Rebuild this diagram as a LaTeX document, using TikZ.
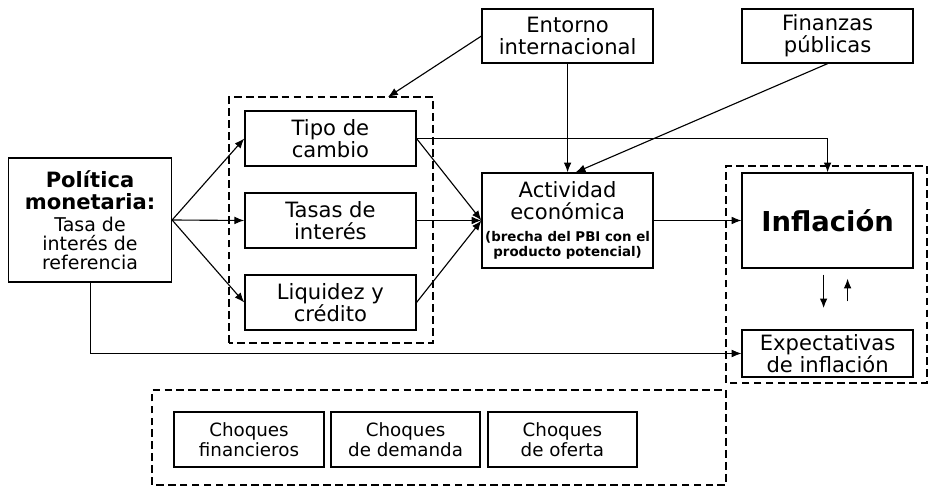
\documentclass[tikz,border=0pt]{standalone}
\usepackage{fontspec}
\setmainfont{DejaVu Sans}
\usetikzlibrary{arrows.meta}
\newcommand{\menor}{\fontsize{13.5}{14}\selectfont}
\newcommand{\nota}{\fontsize{9.5}{11.5}\selectfont\bfseries}
\tikzset{
  caja/.style={draw, line width=0.9pt, minimum width=4.275cm, inner sep=0pt,
    align=center, font=\fontsize{15}{15.5}\selectfont},
  grupo/.style={line width=1.4pt, dash pattern=on 5.5pt off 3pt},
  flecha/.style={-{Latex[length=7pt,width=5.5pt]}, line width=0.8pt},
}
\begin{document}
\begin{tikzpicture}
    \useasboundingbox (0,0) rectangle (23.2,12.15);

    \node[caja, minimum width=4.075cm, minimum height=3.1cm] (politica) at (2.25,6.65)
        {\textbf{Política}\\\textbf{monetaria:}\\\menor Tasa de\\[-2pt]\menor interés de\\[-2pt]\menor referencia};

    \node[caja, minimum height=1.375cm] (tipo)     at (8.26,8.6875) {Tipo de\\cambio};
    \node[caja, minimum height=1.375cm] (tasas)    at (8.26,6.6375) {Tasas de\\interés};
    \node[caja, minimum height=1.375cm] (liquidez) at (8.26,4.5875) {Liquidez y\\crédito};

    \node[caja, minimum height=1.35cm] (entorno)  at (14.19,11.25) {Entorno\\internacional};
    \node[caja, minimum height=1.35cm] (finanzas) at (20.69,11.25) {Finanzas\\públicas};

    \node[caja, minimum height=2.375cm] (actividad) at (14.19,6.6375)
        {Actividad\\económica\\\nota (brecha del PBI con el\\[-4.5pt]\nota producto potencial)};
    \node[caja, minimum height=2.375cm, font=\fontsize{19.5}{22}\selectfont\bfseries] (inflacion) at (20.69,6.6375) {Inflación};
    \node[caja, minimum height=1.175cm] (expectativas) at (20.69,3.3125) {Expectativas\\de inflación};

%    choques
    \node[caja, minimum width=3.75cm, minimum height=1.375cm, font=\fontsize{13}{14}\selectfont] (financieros) at (6.225,1.1625) {Choques\\financieros};
    \node[caja, minimum width=3.725cm, minimum height=1.375cm, font=\fontsize{13}{14}\selectfont] (demanda) at (10.14,1.1625) {Choques\\de demanda};
    \node[caja, minimum width=3.725cm, minimum height=1.375cm, font=\fontsize{13}{14}\selectfont] (oferta) at (14.06,1.1625) {Choques\\de oferta};

    \draw[grupo] (5.725,3.575) rectangle (10.825,9.725);
    \coordinate (canales) at (9.7,9.725);
    \draw[grupo] (18.15,2.575) rectangle (23.175,8.0);
    \draw[grupo] (3.8,0.025) rectangle (18.15,2.4);

    \draw[flecha] (politica.east) -- (tipo.west);
    \draw[flecha] (politica.east) -- (tasas.west);
    \draw[flecha] (politica.east) -- (liquidez.west);

    \draw[flecha] (tipo.east)     -- (actividad.west);
    \draw[flecha] (tasas.east)    -- (actividad.west);
    \draw[flecha] (liquidez.east) -- (actividad.west);

    \draw[flecha] (tipo.east) -| (inflacion.north);
    \draw[flecha] (entorno.south) -- (actividad.north);
    \draw[flecha] (finanzas.south) -- ([xshift=0.2cm]actividad.north);
    \draw[flecha] (entorno.west) -- (canales);
    \draw[flecha] (actividad.east) -- (inflacion.west);
    \draw[flecha, line width=0.6pt] (politica.south) |- (expectativas.west);

    \draw[flecha, line width=1.2pt] ([xshift=-0.1cm,yshift=-0.15cm]inflacion.south) -- ([xshift=-0.1cm,yshift=0.525cm]expectativas.north);
    \draw[flecha] ([xshift=0.5cm,yshift=0.7cm]expectativas.north) -- ([xshift=0.5cm,yshift=-0.25cm]inflacion.south);
\end{tikzpicture}
\end{document}
